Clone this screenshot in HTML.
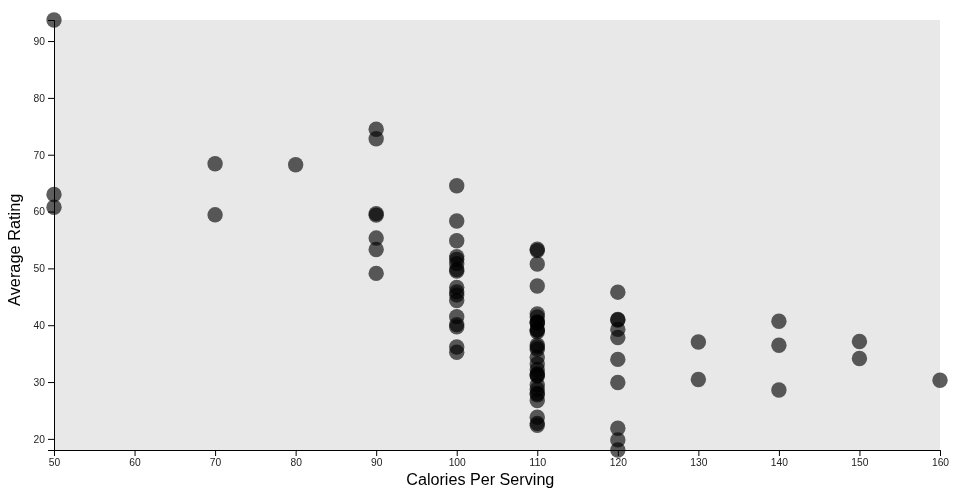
<!DOCTYPE html>
<html lang="en"><head><meta charset="utf-8"><title>Cereal scatter</title>
<style>
html,body{margin:0;padding:0;background:#fff;}
body{width:960px;height:500px;overflow:hidden;font-family:"Liberation Sans",sans-serif;}
svg{display:block;}
.dot{fill:#000;fill-opacity:0.63;}
.axis line,.axis path{fill:none;stroke:#000;stroke-width:1;}
.axis text{font-family:"Liberation Sans",sans-serif;font-size:10.2px;fill:#222;}
.label{font-family:"Liberation Sans",sans-serif;font-size:16px;fill:#000;text-anchor:middle;}
</style></head><body>
<svg width="960" height="500" viewBox="0 0 960 500">
<rect x="54" y="20" width="886" height="430" fill="#e8e8e8"/>
<g class="dots">
<circle class="dot" cx="215.09" cy="163.80" r="7.7"/>
<circle class="dot" cx="617.82" cy="359.41" r="7.7"/>
<circle class="dot" cx="215.09" cy="214.82" r="7.7"/>
<circle class="dot" cx="54.00" cy="20.00" r="7.7"/>
<circle class="dot" cx="537.27" cy="357.13" r="7.7"/>
<circle class="dot" cx="537.27" cy="384.83" r="7.7"/>
<circle class="dot" cx="537.27" cy="364.01" r="7.7"/>
<circle class="dot" cx="698.36" cy="342.04" r="7.7"/>
<circle class="dot" cx="376.18" cy="273.38" r="7.7"/>
<circle class="dot" cx="376.18" cy="249.55" r="7.7"/>
<circle class="dot" cx="617.82" cy="450.00" r="7.7"/>
<circle class="dot" cx="537.27" cy="264.03" r="7.7"/>
<circle class="dot" cx="617.82" cy="439.88" r="7.7"/>
<circle class="dot" cx="537.27" cy="322.94" r="7.7"/>
<circle class="dot" cx="537.27" cy="423.33" r="7.7"/>
<circle class="dot" cx="537.27" cy="317.00" r="7.7"/>
<circle class="dot" cx="456.73" cy="291.89" r="7.7"/>
<circle class="dot" cx="537.27" cy="349.18" r="7.7"/>
<circle class="dot" cx="537.27" cy="425.26" r="7.7"/>
<circle class="dot" cx="537.27" cy="322.66" r="7.7"/>
<circle class="dot" cx="456.73" cy="185.78" r="7.7"/>
<circle class="dot" cx="537.27" cy="286.02" r="7.7"/>
<circle class="dot" cx="456.73" cy="346.95" r="7.7"/>
<circle class="dot" cx="456.73" cy="300.60" r="7.7"/>
<circle class="dot" cx="537.27" cy="369.50" r="7.7"/>
<circle class="dot" cx="537.27" cy="373.88" r="7.7"/>
<circle class="dot" cx="456.73" cy="220.96" r="7.7"/>
<circle class="dot" cx="617.82" cy="320.00" r="7.7"/>
<circle class="dot" cx="617.82" cy="319.44" r="7.7"/>
<circle class="dot" cx="537.27" cy="393.27" r="7.7"/>
<circle class="dot" cx="456.73" cy="352.20" r="7.7"/>
<circle class="dot" cx="537.27" cy="417.26" r="7.7"/>
<circle class="dot" cx="456.73" cy="256.58" r="7.7"/>
<circle class="dot" cx="537.27" cy="249.22" r="7.7"/>
<circle class="dot" cx="617.82" cy="292.18" r="7.7"/>
<circle class="dot" cx="617.82" cy="428.24" r="7.7"/>
<circle class="dot" cx="537.27" cy="375.95" r="7.7"/>
<circle class="dot" cx="537.27" cy="389.19" r="7.7"/>
<circle class="dot" cx="537.27" cy="344.97" r="7.7"/>
<circle class="dot" cx="778.91" cy="345.27" r="7.7"/>
<circle class="dot" cx="537.27" cy="329.53" r="7.7"/>
<circle class="dot" cx="456.73" cy="294.93" r="7.7"/>
<circle class="dot" cx="537.27" cy="400.60" r="7.7"/>
<circle class="dot" cx="456.73" cy="240.81" r="7.7"/>
<circle class="dot" cx="859.45" cy="341.49" r="7.7"/>
<circle class="dot" cx="859.45" cy="358.52" r="7.7"/>
<circle class="dot" cx="940.00" cy="380.26" r="7.7"/>
<circle class="dot" cx="456.73" cy="324.61" r="7.7"/>
<circle class="dot" cx="617.82" cy="382.48" r="7.7"/>
<circle class="dot" cx="778.91" cy="321.28" r="7.7"/>
<circle class="dot" cx="376.18" cy="213.58" r="7.7"/>
<circle class="dot" cx="698.36" cy="379.48" r="7.7"/>
<circle class="dot" cx="617.82" cy="337.49" r="7.7"/>
<circle class="dot" cx="456.73" cy="316.67" r="7.7"/>
<circle class="dot" cx="54.00" cy="207.25" r="7.7"/>
<circle class="dot" cx="54.00" cy="194.47" r="7.7"/>
<circle class="dot" cx="456.73" cy="271.16" r="7.7"/>
<circle class="dot" cx="456.73" cy="263.67" r="7.7"/>
<circle class="dot" cx="617.82" cy="329.42" r="7.7"/>
<circle class="dot" cx="456.73" cy="326.90" r="7.7"/>
<circle class="dot" cx="376.18" cy="238.07" r="7.7"/>
<circle class="dot" cx="537.27" cy="313.85" r="7.7"/>
<circle class="dot" cx="537.27" cy="322.03" r="7.7"/>
<circle class="dot" cx="295.64" cy="164.74" r="7.7"/>
<circle class="dot" cx="376.18" cy="129.30" r="7.7"/>
<circle class="dot" cx="376.18" cy="138.80" r="7.7"/>
<circle class="dot" cx="537.27" cy="375.05" r="7.7"/>
<circle class="dot" cx="537.27" cy="250.59" r="7.7"/>
<circle class="dot" cx="376.18" cy="215.17" r="7.7"/>
<circle class="dot" cx="537.27" cy="331.81" r="7.7"/>
<circle class="dot" cx="778.91" cy="390.04" r="7.7"/>
<circle class="dot" cx="456.73" cy="287.37" r="7.7"/>
<circle class="dot" cx="537.27" cy="330.29" r="7.7"/>
<circle class="dot" cx="537.27" cy="394.81" r="7.7"/>
<circle class="dot" cx="456.73" cy="269.59" r="7.7"/>
<circle class="dot" cx="456.73" cy="259.33" r="7.7"/>
<circle class="dot" cx="537.27" cy="346.88" r="7.7"/>
</g>
<g class="axis" transform="translate(54,450)">
<path d="M0.5,6V0.5H886.5V6"/>
<g transform="translate(0.00,0)"><line x1="0.5" x2="0.5" y1="0.5" y2="6"/><text x="0.5" y="16" text-anchor="middle" textLength="11.44" lengthAdjust="spacingAndGlyphs">50</text></g>
<g transform="translate(80.55,0)"><line x1="0.5" x2="0.5" y1="0.5" y2="6"/><text x="0.5" y="16" text-anchor="middle" textLength="11.44" lengthAdjust="spacingAndGlyphs">60</text></g>
<g transform="translate(161.09,0)"><line x1="0.5" x2="0.5" y1="0.5" y2="6"/><text x="0.5" y="16" text-anchor="middle" textLength="11.44" lengthAdjust="spacingAndGlyphs">70</text></g>
<g transform="translate(241.64,0)"><line x1="0.5" x2="0.5" y1="0.5" y2="6"/><text x="0.5" y="16" text-anchor="middle" textLength="11.44" lengthAdjust="spacingAndGlyphs">80</text></g>
<g transform="translate(322.18,0)"><line x1="0.5" x2="0.5" y1="0.5" y2="6"/><text x="0.5" y="16" text-anchor="middle" textLength="11.44" lengthAdjust="spacingAndGlyphs">90</text></g>
<g transform="translate(402.73,0)"><line x1="0.5" x2="0.5" y1="0.5" y2="6"/><text x="0.5" y="16" text-anchor="middle" textLength="17.16" lengthAdjust="spacingAndGlyphs">100</text></g>
<g transform="translate(483.27,0)"><line x1="0.5" x2="0.5" y1="0.5" y2="6"/><text x="0.5" y="16" text-anchor="middle" textLength="17.16" lengthAdjust="spacingAndGlyphs">110</text></g>
<g transform="translate(563.82,0)"><line x1="0.5" x2="0.5" y1="0.5" y2="6"/><text x="0.5" y="16" text-anchor="middle" textLength="17.16" lengthAdjust="spacingAndGlyphs">120</text></g>
<g transform="translate(644.36,0)"><line x1="0.5" x2="0.5" y1="0.5" y2="6"/><text x="0.5" y="16" text-anchor="middle" textLength="17.16" lengthAdjust="spacingAndGlyphs">130</text></g>
<g transform="translate(724.91,0)"><line x1="0.5" x2="0.5" y1="0.5" y2="6"/><text x="0.5" y="16" text-anchor="middle" textLength="17.16" lengthAdjust="spacingAndGlyphs">140</text></g>
<g transform="translate(805.45,0)"><line x1="0.5" x2="0.5" y1="0.5" y2="6"/><text x="0.5" y="16" text-anchor="middle" textLength="17.16" lengthAdjust="spacingAndGlyphs">150</text></g>
<g transform="translate(886.00,0)"><line x1="0.5" x2="0.5" y1="0.5" y2="6"/><text x="0.5" y="16" text-anchor="middle" textLength="17.16" lengthAdjust="spacingAndGlyphs">160</text></g>
</g>
<g class="axis" transform="translate(54,20)">
<path d="M-6,0.5H0.5V430.5H-6"/>
<g transform="translate(0,418.88)"><line x1="-6" x2="0.5" y1="0.5" y2="0.5"/><text x="-9" y="3.9" text-anchor="end" textLength="11.44" lengthAdjust="spacingAndGlyphs">20</text></g>
<g transform="translate(0,362.05)"><line x1="-6" x2="0.5" y1="0.5" y2="0.5"/><text x="-9" y="3.9" text-anchor="end" textLength="11.44" lengthAdjust="spacingAndGlyphs">30</text></g>
<g transform="translate(0,305.21)"><line x1="-6" x2="0.5" y1="0.5" y2="0.5"/><text x="-9" y="3.9" text-anchor="end" textLength="11.44" lengthAdjust="spacingAndGlyphs">40</text></g>
<g transform="translate(0,248.38)"><line x1="-6" x2="0.5" y1="0.5" y2="0.5"/><text x="-9" y="3.9" text-anchor="end" textLength="11.44" lengthAdjust="spacingAndGlyphs">50</text></g>
<g transform="translate(0,191.55)"><line x1="-6" x2="0.5" y1="0.5" y2="0.5"/><text x="-9" y="3.9" text-anchor="end" textLength="11.44" lengthAdjust="spacingAndGlyphs">60</text></g>
<g transform="translate(0,134.72)"><line x1="-6" x2="0.5" y1="0.5" y2="0.5"/><text x="-9" y="3.9" text-anchor="end" textLength="11.44" lengthAdjust="spacingAndGlyphs">70</text></g>
<g transform="translate(0,77.89)"><line x1="-6" x2="0.5" y1="0.5" y2="0.5"/><text x="-9" y="3.9" text-anchor="end" textLength="11.44" lengthAdjust="spacingAndGlyphs">80</text></g>
<g transform="translate(0,21.06)"><line x1="-6" x2="0.5" y1="0.5" y2="0.5"/><text x="-9" y="3.9" text-anchor="end" textLength="11.44" lengthAdjust="spacingAndGlyphs">90</text></g>
</g>
<text class="label" x="480.3" y="484.7" textLength="148.1" lengthAdjust="spacingAndGlyphs">Calories Per Serving</text>
<text class="label" transform="translate(20.2,249.8) rotate(-90)" textLength="112.3" lengthAdjust="spacingAndGlyphs">Average Rating</text>
</svg></body></html>
